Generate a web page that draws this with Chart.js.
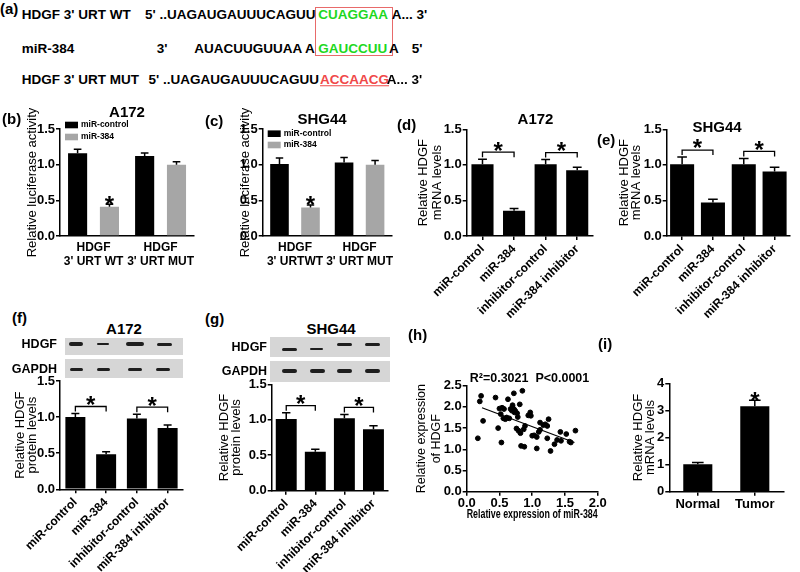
<!DOCTYPE html>
<html>
<head>
<meta charset="utf-8">
<title>HDGF / miR-384</title>
<script src="https://cdn.jsdelivr.net/npm/chart.js@4.4.1/dist/chart.umd.min.js"></script>
<style>
  html, body { margin: 0; padding: 0; background: #fff; }
  #fig { position: relative; width: 800px; height: 572px; overflow: hidden;
         font-family: 'Liberation Sans', Arial, sans-serif; font-weight: bold; color: #000; }
  #fig canvas { position: absolute; }
  .t { position: absolute; white-space: pre; line-height: 1; }
  .strip { position: absolute; background: #d6d6d6; }
  .band { position: absolute; background: #1e1e1e; border-radius: 2px; filter: blur(0.4px); }
  #box { position: absolute; border: 1px solid #e86a6a; }
</style>
</head>
<body>
<div id="fig">
  <div id="box" style="left:315px;top:7px;width:76px;height:47px"></div>
  <canvas id="cb"></canvas>
  <canvas id="cc"></canvas>
  <canvas id="cd"></canvas>
  <canvas id="ce"></canvas>
  <canvas id="cf"></canvas>
  <canvas id="cg"></canvas>
  <canvas id="ch"></canvas>
  <canvas id="ci"></canvas>
</div>
<script>
// (b) / (c) dual-luciferase reporter
const lucGroupsA172 = [['HDGF', "3' URT WT"], ['HDGF', "3' URT MUT"]];
const lucGroupsSHG44 = [['HDGF', "3' URTWT"], ['HDGF', "3' URT MUT"]];
const lucSeries = ['miR-control', 'miR-384'];
const lucCtrlA172 = [1.16, 1.12];
const lucCtrlA172Err = [0.055, 0.045];
const lucMirA172 = [0.41, 1.00];
const lucMirA172Err = [0.035, 0.04];
const lucCtrlSHG44 = [1.01, 1.03];
const lucCtrlSHG44Err = [0.085, 0.07];
const lucMirSHG44 = [0.40, 1.00];
const lucMirSHG44Err = [0.035, 0.06];

// (d)-(g) transfection groups
const groups = ['miR-control', 'miR-384', 'inhibitor-control', 'miR-384 inhibitor'];
const mrnaA172 = [1.01, 0.355, 1.01, 0.925];
const mrnaA172Err = [0.07, 0.03, 0.065, 0.04];
const mrnaSHG44 = [1.01, 0.47, 1.01, 0.905];
const mrnaSHG44Err = [0.10, 0.045, 0.08, 0.06];
const protA172 = [1.00, 0.485, 0.98, 0.85];
const protA172Err = [0.05, 0.035, 0.06, 0.04];
const protSHG44 = [1.01, 0.55, 1.02, 0.865];
const protSHG44Err = [0.09, 0.035, 0.055, 0.05];

// (h) correlation
const mirExpr = [0.17, 0.20, 0.22, 0.44, 0.25, 0.48, 0.53, 0.50, 0.63, 0.72, 0.85, 0.81, 0.67, 0.69, 0.72,
  0.74, 0.73, 0.77, 0.70, 0.54, 0.57, 0.52, 0.56, 0.61, 0.59, 0.65, 0.78, 0.76, 0.79, 0.82, 0.87, 0.83,
  0.88, 0.89, 0.94, 0.97, 0.98, 1.00, 1.03, 1.07, 1.07, 1.10, 1.12, 1.12, 1.17, 1.20, 1.25, 1.23, 1.23,
  1.28, 1.34, 1.38, 1.43, 1.44, 1.52, 1.57, 1.59, 1.66];
const hdgfExpr = [1.26, 2.13, 2.26, 2.22, 1.67, 1.50, 1.16, 1.96, 2.18, 2.32, 2.38, 2.06, 1.95, 1.91, 1.95,
  1.91, 1.87, 1.85, 2.04, 1.98, 1.95, 1.83, 1.73, 1.75, 1.71, 1.73, 1.76, 1.49, 1.44, 1.38, 1.47, 1.08,
  1.06, 1.55, 1.80, 1.87, 1.79, 1.32, 1.33, 1.29, 1.02, 1.41, 1.46, 1.63, 1.57, 1.59, 1.71, 1.55, 1.26,
  0.96, 1.12, 1.22, 1.41, 1.20, 1.36, 1.18, 1.16, 1.44];
const fitX = [0.234, 1.645];
const fitY = [1.98, 1.16];

// (i) tissue
const tissue = ['Normal', 'Tumor'];
const tissueMrna = [1.01, 3.15];
const tissueMrnaErr = [0.07, 0.22];

const GREY = '#a6a6a6';
const FONT = "'Liberation Sans', Arial, sans-serif";

Chart.defaults.font.family = FONT;
Chart.defaults.font.size = 13;
Chart.defaults.font.weight = 'bold';
Chart.defaults.color = '#000';
Chart.defaults.animation = false;
Chart.defaults.responsive = false;
Chart.defaults.devicePixelRatio = 1;
Chart.defaults.plugins.legend.display = false;
Chart.defaults.plugins.tooltip.enabled = false;

// upward-only SEM caps, GraphPad style
const errorBars = {
    id: 'errorBars',
    afterDatasetsDraw(chart) {
        const ctx = chart.ctx;
        const ys = chart.scales.y;
        chart.data.datasets.forEach((ds, di) => {
            if (!ds.errors) return;
            chart.getDatasetMeta(di).data.forEach((bar, i) => {
                const top = ys.getPixelForValue(ds.data[i] + ds.errors[i]);
                const half = bar.width * 0.2;
                ctx.save();
                ctx.strokeStyle = '#000';
                ctx.lineWidth = 1.5;
                ctx.beginPath();
                ctx.moveTo(bar.x, bar.y);
                ctx.lineTo(bar.x, top);
                ctx.moveTo(bar.x - half, top);
                ctx.lineTo(bar.x + half, top);
                ctx.stroke();
                ctx.restore();
            });
        });
    }
};

// brackets + asterisks
const sigMarks = {
    id: 'sigMarks',
    afterDatasetsDraw(chart, args, opts) {
        const ctx = chart.ctx;
        const ys = chart.scales.y;
        const topOf = (di, i) => {
            const ds = chart.data.datasets[di];
            return ys.getPixelForValue(ds.data[i] + (ds.errors ? ds.errors[i] : 0));
        };
        const star = (x, yc) => {
            ctx.font = 'bold 24px ' + FONT;
            ctx.textAlign = 'center';
            ctx.textBaseline = 'alphabetic';
            ctx.fillStyle = '#000';
            ctx.fillText('*', x, yc + 13.4);
        };
        ctx.save();
        (opts.pairs || []).forEach(([a, b]) => {
            const bars = chart.getDatasetMeta(0).data;
            const xa = bars[a].x, xb = bars[b].x;
            const yb = Math.min(topOf(0, a), topOf(0, b)) - 7;
            ctx.strokeStyle = '#000';
            ctx.lineWidth = 1.3;
            ctx.beginPath();
            ctx.moveTo(xa, yb + 5);
            ctx.lineTo(xa, yb);
            ctx.lineTo(xb, yb);
            ctx.lineTo(xb, yb + 5);
            ctx.stroke();
            star((xa + xb) / 2, yb - 7);
        });
        (opts.starred || []).forEach(([di, i]) => {
            const bar = chart.getDatasetMeta(di).data[i];
            star(bar.x, topOf(di, i) - 5);
        });
        ctx.restore();
    }
};

Chart.register(errorBars, sigMarks);

// small legend drawn over the plot (b, c)
const miniLegend = {
    id: 'miniLegend',
    afterDraw(chart, args, opts) {
        const ctx = chart.ctx;
        const a = chart.chartArea;
        ctx.save();
        chart.data.datasets.forEach((ds, i) => {
            const x = a.left + opts.dx;
            const yc = a.top + opts.dy + i * opts.row;
            ctx.fillStyle = ds.backgroundColor;
            ctx.fillRect(x, yc - 3.3, 13, 6.6);
            ctx.fillStyle = '#000';
            ctx.font = 'bold 8.5px ' + FONT;
            ctx.textAlign = 'left';
            ctx.textBaseline = 'middle';
            ctx.fillText(ds.label, x + 16, yc);
        });
        ctx.restore();
    }
};

function place(id, l, t, w, h) {
    const c = document.getElementById(id);
    c.width = w;
    c.height = h;
    c.style.left = l + 'px';
    c.style.top = t + 'px';
    c.style.width = w + 'px';
    c.style.height = h + 'px';
    return c;
}

function yAxis(p, max, step, fmt) {
    return {
        min: 0,
        max: max,
        ticks: { stepSize: step, padding: 1, callback: fmt },
        grid: { drawOnChartArea: false, tickLength: 4, color: '#000', lineWidth: 1.5 },
        border: { color: '#000', width: 1.5 },
        title: {
            display: true,
            text: p.yTitle,
            padding: { top: p.titlePad, bottom: 0 },
            font: { size: p.titleSize || 13, weight: 'normal', lineHeight: p.titleLh + 'px' }
        },
        afterFit: s => { s.width = p.plot[0] - p.box[0]; }
    };
}

function barPanel(p) {
    const [l, t, w, h] = p.box;
    const [x0, y0, x1, y1] = p.plot;
    return new Chart(place(p.id, l, t, w, h), {
        type: 'bar',
        data: {
            labels: p.labels,
            datasets: p.series.map(s => ({
                label: s.label,
                data: s.data,
                errors: s.errors,
                backgroundColor: s.color,
                borderWidth: 0,
                barPercentage: p.barPct,
                categoryPercentage: p.catPct
            }))
        },
        options: {
            layout: { padding: { left: 0, bottom: 0, top: y0 - t, right: l + w - x1 } },
            plugins: {
                sigMarks: { pairs: p.pairs || [], starred: p.starred || [] },
                miniLegend: p.legend || {}
            },
            scales: {
                x: {
                    grid: { display: true, drawOnChartArea: false, offset: false, drawTicks: p.xTicks,
                            tickLength: 4, color: '#000', lineWidth: 1.5 },
                    border: { color: '#000', width: 1.5 },
                    ticks: { autoSkip: false, maxRotation: p.rotate || 0, minRotation: p.rotate || 0,
                             padding: p.xPad, font: p.xFont },
                    afterFit: s => { s.height = t + h - y1; }
                },
                y: yAxis(p, p.yMax, p.yStep, p.fmt)
            }
        },
        plugins: p.legend ? [miniLegend] : []
    });
}

const one = v => Number(v).toFixed(1);

// (b)
barPanel({
    id: 'cb', box: [0, 108, 200, 168], plot: [60, 129, 196, 236],
    labels: lucGroupsA172,
    series: [
        { label: lucSeries[0], data: lucCtrlA172, errors: lucCtrlA172Err, color: '#000' },
        { label: lucSeries[1], data: lucMirA172, errors: lucMirA172Err, color: GREY }
    ],
    barPct: 0.6, catPct: 0.95, yMax: 1.5, yStep: 0.5, fmt: one,
    yTitle: 'Relative luciferase activity', titlePad: 24.5, titleLh: 15,
    xTicks: false, xPad: 5, xFont: { size: 12, lineHeight: '14px' },
    starred: [[1, 0]], legend: { dx: 5, dy: -4, row: 12 }
});

// (c)
barPanel({
    id: 'cc', box: [200, 108, 200, 168], plot: [262.7, 129, 392, 236],
    labels: lucGroupsSHG44,
    series: [
        { label: lucSeries[0], data: lucCtrlSHG44, errors: lucCtrlSHG44Err, color: '#000' },
        { label: lucSeries[1], data: lucMirSHG44, errors: lucMirSHG44Err, color: GREY }
    ],
    barPct: 0.6, catPct: 0.96, yMax: 1.5, yStep: 0.5, fmt: one,
    yTitle: 'Relative luciferase activity', titlePad: 37.5, titleLh: 15,
    xTicks: false, xPad: 5, xFont: { size: 12, lineHeight: '14px' },
    starred: [[1, 0]], legend: { dx: 5, dy: 4.7, row: 11.3 }
});

// (d)
barPanel({
    id: 'cd', box: [395, 112, 205, 210], plot: [466.7, 129.3, 593, 236],
    labels: groups,
    series: [{ label: 'A172', data: mrnaA172, errors: mrnaA172Err, color: '#000' }],
    barPct: 0.7, catPct: 1, yMax: 1.5, yStep: 0.5, fmt: one,
    yTitle: ['Relative HDGF', 'mRNA levels'], titlePad: 21.3, titleLh: 14,
    xTicks: true, xPad: 2, rotate: 45, xFont: { size: 12 },
    pairs: [[0, 1], [2, 3]]
});

// (e)
barPanel({
    id: 'ce', box: [590, 112, 208, 210], plot: [666.7, 129.3, 790, 236],
    labels: groups,
    series: [{ label: 'SHG44', data: mrnaSHG44, errors: mrnaSHG44Err, color: '#000' }],
    barPct: 0.78, catPct: 1, yMax: 1.5, yStep: 0.5, fmt: one,
    yTitle: ['Relative HDGF', 'mRNA levels'], titlePad: 28, titleLh: 12,
    xTicks: true, xPad: 2, rotate: 45, xFont: { size: 12 },
    pairs: [[0, 1], [2, 3]]
});

// (f)
barPanel({
    id: 'cf', box: [0, 368, 192, 204], plot: [60, 381, 183, 489.3],
    labels: groups,
    series: [{ label: 'A172', data: protA172, errors: protA172Err, color: '#000' }],
    barPct: 0.65, catPct: 1, yMax: 1.5, yStep: 0.5, fmt: one,
    yTitle: ['Relative HDGF', 'protein levels'], titlePad: 14.7, titleLh: 12,
    xTicks: true, xPad: 2, rotate: 45, xFont: { size: 12 },
    pairs: [[0, 1], [2, 3]]
});

// (g)
barPanel({
    id: 'cg', box: [200, 372, 195, 200], plot: [271.7, 384.3, 388, 490.7],
    labels: groups,
    series: [{ label: 'SHG44', data: protSHG44, errors: protSHG44Err, color: '#000' }],
    barPct: 0.72, catPct: 1, yMax: 1.5, yStep: 0.5, fmt: one,
    yTitle: ['Relative HDGF', 'protein levels'], titlePad: 18, titleLh: 12,
    xTicks: true, xPad: 2, rotate: 45, xFont: { size: 12 },
    pairs: [[0, 1], [2, 3]]
});

// (i)
barPanel({
    id: 'ci', box: [600, 372, 195, 145], plot: [669.3, 383.3, 783.3, 491.7],
    labels: tissue,
    series: [{ label: 'tissue', data: tissueMrna, errors: tissueMrnaErr, color: '#000' }],
    barPct: 0.51, catPct: 1, yMax: 4, yStep: 1, fmt: v => String(v),
    yTitle: ['Relative HDGF', 'mRNA levels'], titlePad: 32, titleLh: 12.3,
    xTicks: true, xPad: 0.5, xFont: { size: 13 },
    starred: [[0, 1]]
});

// (h) scatter with linear fit
new Chart(place('ch', 400, 372, 215, 152), {
    type: 'scatter',
    data: {
        datasets: [
            {
                data: mirExpr.map((x, i) => ({ x: x, y: hdgfExpr[i] })),
                backgroundColor: '#000', borderColor: '#000',
                pointRadius: 2.4, pointHoverRadius: 2.4
            },
            {
                type: 'line',
                data: fitX.map((x, i) => ({ x: x, y: fitY[i] })),
                borderColor: '#000', borderWidth: 1.2, pointRadius: 0, fill: false
            }
        ]
    },
    options: {
        layout: { padding: { left: 0, bottom: 0, top: 13.7, right: 17.3 } },
        scales: {
            x: {
                type: 'linear', min: 0, max: 2,
                ticks: { stepSize: 0.5, padding: 0, callback: one },
                grid: { drawOnChartArea: false, tickLength: 4, color: '#000', lineWidth: 1.5 },
                border: { color: '#000', width: 1.5 },
                title: { display: true, text: 'Relative expression of miR-384',
                         padding: { top: 0, bottom: 1.9 }, font: { size: 13, weight: 'bold' } },
                afterFit: s => { s.height = 32.3; }
            },
            y: yAxis({ yTitle: ['Relative expression', 'of HDGF'], titlePad: 14.2, titleLh: 15,
                       titleSize: 12.5, plot: [466.7], box: [400] }, 2.5, 0.5, one)
        }
    }
});

// ---- text, panel letters, blots ----
const fig = document.getElementById('fig');
function txt(s, x, y, size, opt) {
    opt = opt || {};
    const d = document.createElement('div');
    d.className = 't';
    d.textContent = s;
    d.style.left = x + 'px';
    d.style.top = y + 'px';
    d.style.fontSize = size + 'px';
    const tx = opt.align === 'center' ? '-50%' : opt.align === 'right' ? '-100%' : '0';
    d.style.transform = 'translate(' + tx + ', -50%)';
    if (opt.color) d.style.color = opt.color;
    if (opt.weight) d.style.fontWeight = opt.weight;
    if (opt.under) d.style.textDecoration = 'underline';
    fig.appendChild(d);
    return d;
}
function blot(x, y, w, h, bands) {
    const s = document.createElement('div');
    s.className = 'strip';
    s.style.cssText = 'left:' + x + 'px;top:' + y + 'px;width:' + w + 'px;height:' + h + 'px';
    fig.appendChild(s);
    bands.forEach(b => {
        const d = document.createElement('div');
        d.className = 'band';
        d.style.cssText = 'left:' + b[0] + 'px;top:' + (b[2] - b[3] / 2) + 'px;width:' + b[1] + 'px;height:' + b[3] + 'px';
        fig.appendChild(d);
    });
}

const GREEN = '#1ed81e';
const RED = '#f04848';
const SEQ = 13.5;

// (a) sequences
txt('(a)', 0, 8, 15);
txt("HDGF 3' URT WT", 21.7, 15, SEQ);
txt("5' ..UAGAUGAUUUCAGUU", 145, 15, SEQ);
txt('CUAGGAA', 318.3, 15, SEQ, { color: GREEN });
txt("A... 3'", 391.7, 15, SEQ);
txt('miR-384', 21.7, 49.3, SEQ);
txt("3'", 156.7, 49.3, SEQ);
txt('AUACUUGUUAA A', 194.3, 49.3, SEQ);
txt('GAUCCUU', 318.3, 49.3, SEQ, { color: GREEN });
txt('A', 389, 49.3, SEQ);
txt("5'", 411.7, 49.3, SEQ);
txt("HDGF 3' URT MUT", 21.7, 80, SEQ);
txt("5' ..UAGAUGAUUUCAGUU", 319, 80, SEQ, { align: 'right' });
txt('ACCAACG', 320, 80, SEQ, { color: RED, under: true });
txt("A... 3'", 386.7, 80, SEQ);

// panel letters
txt('(b)', 2, 118, 15);
txt('(c)', 205, 120, 15);
txt('(d)', 397, 124, 15);
txt('(e)', 597, 139, 15);
txt('(f)', 12, 317, 15);
txt('(g)', 205, 318, 15);
txt('(h)', 408, 334, 15);
txt('(i)', 598, 343, 15);

// panel titles
txt('A172', 127, 111, 15, { align: 'center' });
txt('SHG44', 322, 118, 15, { align: 'center' });
txt('A172', 535.5, 117.5, 15, { align: 'center' });
txt('SHG44', 717, 126, 15, { align: 'center' });
txt('A172', 124, 328, 15, { align: 'center' });
txt('SHG44', 331, 327.5, 15, { align: 'center' });
txt('R\u00b2=0.3021  P<0.0001', 529.5, 378.3, 12.5, { align: 'center' });

// western blots (f) and (g)
blot(65, 338, 118, 17, [[69, 14, 344, 3.5], [97, 12, 344, 2.5], [126, 18, 344, 3.5], [157, 15, 344, 3]]);
blot(65, 359, 118, 19, [[70, 13, 369, 3], [97, 13, 369, 3], [128, 14, 369, 3], [156, 14, 369, 3]]);
blot(270, 337, 120, 20, [[282, 15, 349, 3], [310, 13, 349, 2.5], [337, 15, 344.3, 3], [365, 15, 344.3, 3]]);
blot(270, 361, 120, 21, [[282, 15, 371, 3.5], [310, 15, 371, 3.5], [337, 15, 371, 3.5], [365, 15, 371, 3.5]]);
txt('HDGF', 57, 344, 12.5, { align: 'right' });
txt('GAPDH', 57, 369, 12.5, { align: 'right' });
txt('HDGF', 267, 347, 12.5, { align: 'right' });
txt('GAPDH', 267, 371, 12.5, { align: 'right' });
</script>
</body>
</html>
